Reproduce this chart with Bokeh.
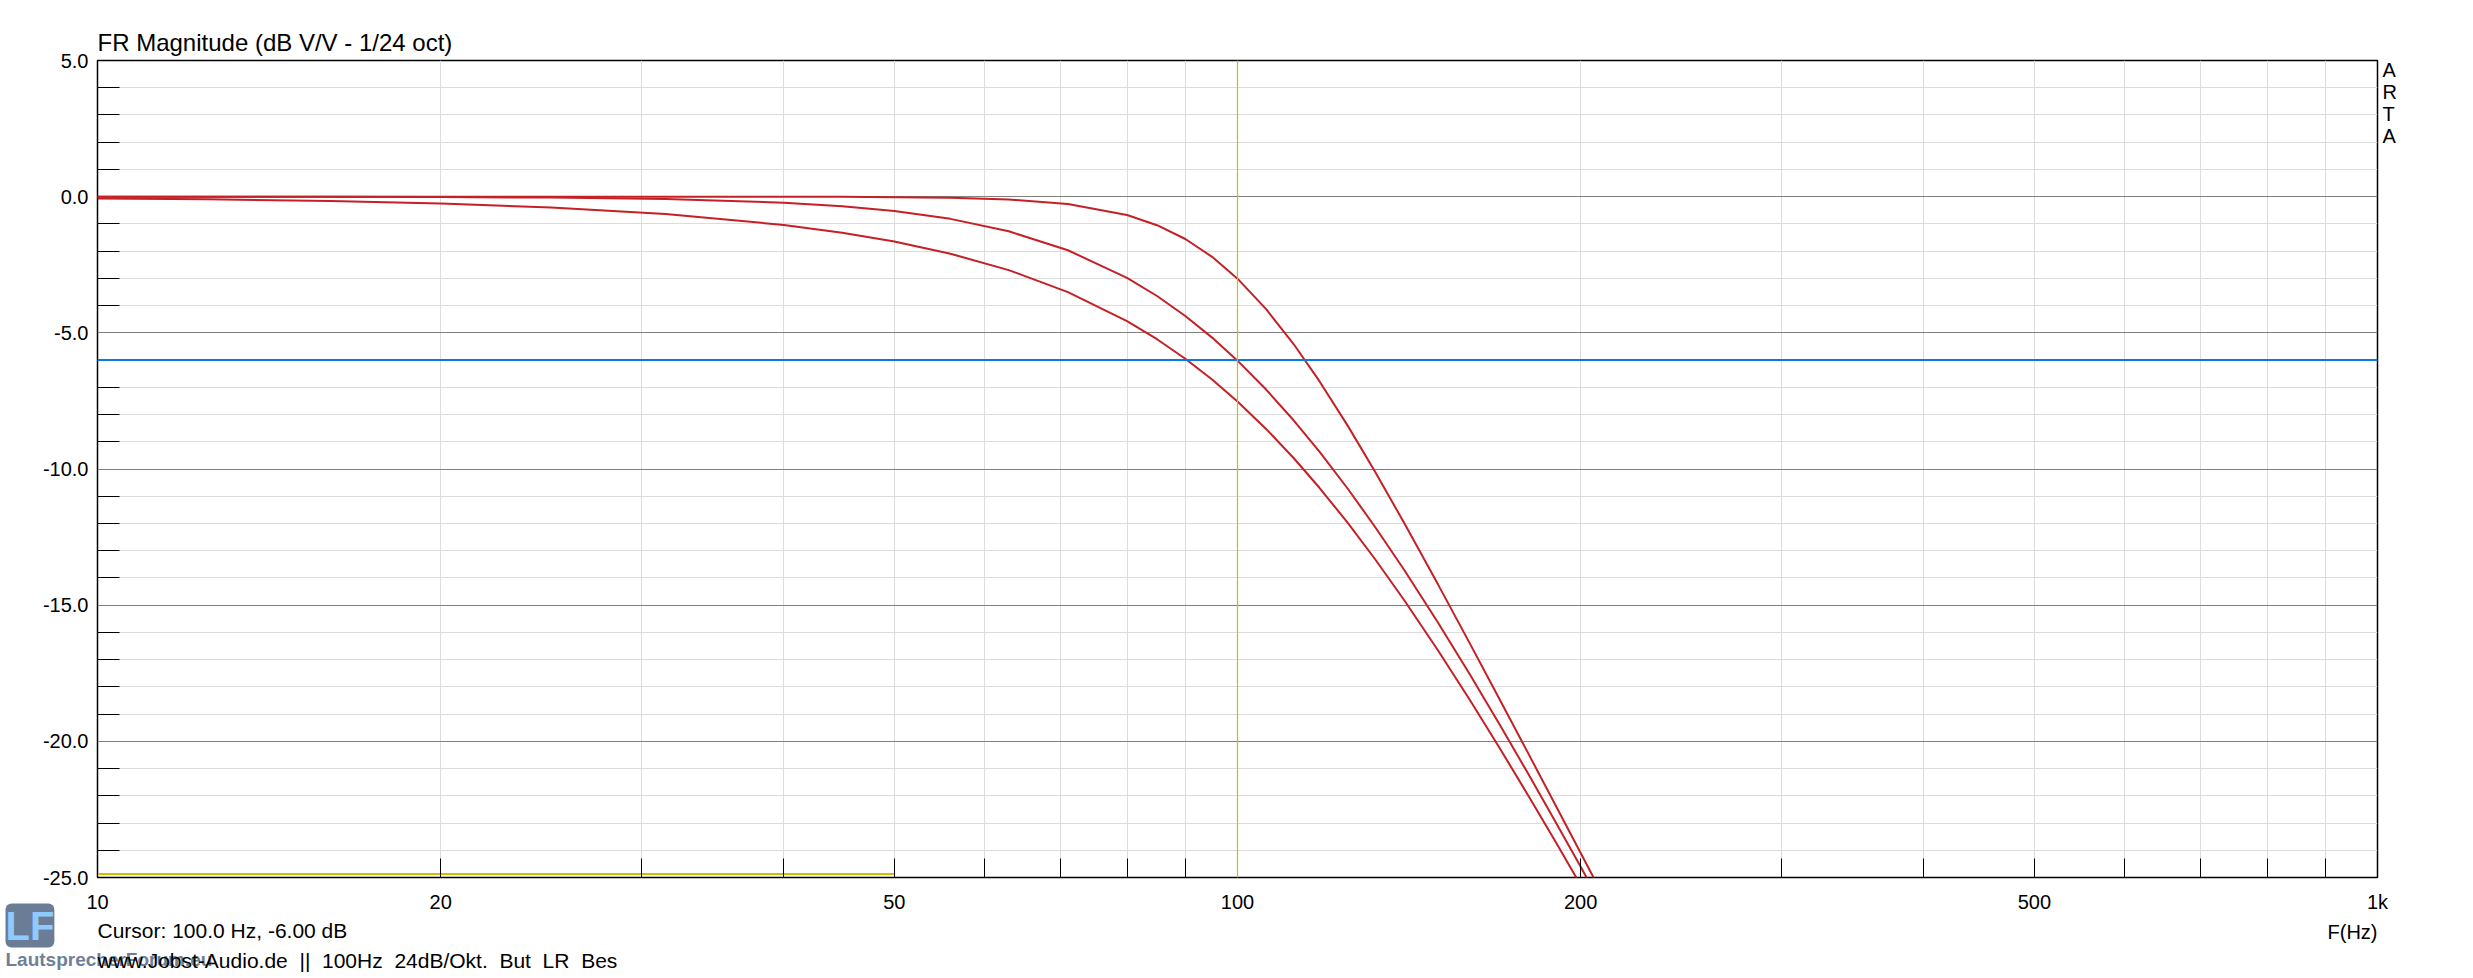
from bokeh.plotting import figure
from bokeh.models import FixedTicker, Span, Label, PrintfTickFormatter
from bokeh.embed import file_html
from bokeh.resources import INLINE

# ---------------- data ----------------
freq_hz = [10, 12.5, 16, 20, 25, 31.5, 40, 45, 50, 56, 63, 71, 80, 85, 90, 95,
           100, 106, 112, 118, 125, 132, 140, 150, 160, 170, 180, 190, 200, 212]

butterworth_db = [0.0, 0.0, 0.0, 0.0, 0.0, 0.0, -0.003, -0.007, -0.017, -0.042,
                  -0.106, -0.272, -0.673, -1.047, -1.555, -2.210, -3.010, -4.139,
                  -5.411, -6.775, -8.426, -10.093, -11.975, -14.254, -16.430,
                  -18.498, -20.461, -22.326, -24.099, -26.117]

linkwitz_riley_db = [-0.001, -0.002, -0.006, -0.014, -0.034, -0.085, -0.220, -0.349,
                     -0.527, -0.815, -1.271, -1.967, -2.982, -3.648, -4.382, -5.175,
                     -6.021, -7.092, -8.211, -9.363, -10.735, -12.119, -13.700,
                     -15.653, -17.563, -19.418, -21.212, -22.942, -24.609, -26.527]

bessel_db = [-0.063, -0.099, -0.162, -0.254, -0.398, -0.636, -1.037, -1.322, -1.648,
             -2.094, -2.697, -3.503, -4.569, -5.234, -5.951, -6.714, -7.521, -8.537,
             -9.597, -10.689, -11.989, -13.305, -14.810, -16.675, -18.503, -20.282,
             -22.006, -23.672, -25.280, -27.133]

# off-scale trace sitting on the bottom edge (yellow)
trace4_freq = [10, 50]
trace4_db = [-24.87, -24.87]

cursor_freq = 100.0
cursor_db = -6.0

x_major_ticks = [10, 20, 50, 100, 200, 500, 1000]
x_minor_ticks = [30, 40, 60, 70, 80, 90, 300, 400, 600, 700, 800, 900]
x_tick_labels = {10: "10", 20: "20", 50: "50", 100: "100", 200: "200", 500: "500", 1000: "1k"}
y_major_ticks = [-25, -20, -15, -10, -5, 0, 5]
y_minor_ticks = [v for v in range(-25, 6) if v % 5 != 0]

title_text = "FR Magnitude (dB V/V - 1/24 oct)"
footer_text = "www.Jobst-Audio.de \u00a0|| \u00a0100Hz \u00a024dB/Okt. \u00a0But \u00a0LR \u00a0Bes"

# ---------------- styling ----------------
FONT = "Liberation Sans"
RED = "#c42026"
YELLOW = "#c8c000"
BLUE = "#0a78e6"

FL, FT, FW, FH = 97, 60, 2280, 817  # frame left/top/width/height in page pixels


def fx(px):
    return 10 ** (1 + (px - FL) / (FW / 2.0))


def fy(py):
    return 5 - (py - FT) * 30.0 / FH


p = figure(x_axis_type="log", x_range=(10, 1000), y_range=(-25, 5),
           frame_width=FW, frame_height=FH,
           min_border_left=FL, min_border_top=FT,
           min_border_right=70, min_border_bottom=100,
           output_backend="svg", toolbar_location=None,
           background_fill_color="white", border_fill_color="white")
p.outline_line_color = "black"
p.outline_line_width = 1.5

xt = FixedTicker(ticks=x_major_ticks, minor_ticks=x_minor_ticks)
yt = FixedTicker(ticks=y_major_ticks, minor_ticks=y_minor_ticks)

p.xaxis.ticker = xt
p.xgrid.ticker = xt
p.xgrid.grid_line_color = "#dcdcdc"
p.xgrid.minor_grid_line_color = "#dcdcdc"

p.yaxis.ticker = yt
p.ygrid.ticker = yt
p.ygrid.grid_line_color = "#808080"
p.ygrid.minor_grid_line_color = "#dcdcdc"

for ax in (p.xaxis, p.yaxis):
    ax.axis_line_color = None
    ax.major_tick_out = 0
    ax.minor_tick_out = 0
    ax.major_tick_line_color = "black"
    ax.minor_tick_line_color = "black"
    ax.major_label_text_font = FONT
    ax.major_label_text_font_size = "20px"
    ax.major_label_text_color = "black"

p.xaxis.major_tick_in = 19
p.xaxis.minor_tick_in = 19
p.xaxis.major_label_overrides = x_tick_labels
p.xaxis.major_label_standoff = 13

p.yaxis.major_tick_in = 0
p.yaxis.minor_tick_in = 22
p.yaxis.formatter = PrintfTickFormatter(format="%.1f")
p.yaxis.major_label_standoff = 9

# ---------------- data marks ----------------
p.line(trace4_freq, trace4_db, line_color=YELLOW, line_width=2)
p.line(freq_hz, bessel_db, line_color=RED, line_width=2)
p.line(freq_hz, linkwitz_riley_db, line_color=RED, line_width=2)
p.line(freq_hz, butterworth_db, line_color=RED, line_width=2)

p.add_layout(Span(location=cursor_db, dimension="width", line_color=BLUE, line_width=2))
p.add_layout(Span(location=cursor_freq, dimension="height", line_color=YELLOW, line_width=1.2))

# ---------------- texts (in side panels so they are not clipped to the frame) ----------------
p.add_layout(Label(x=fx(97), y=fy(28), text=title_text, text_font=FONT,
                   text_font_size="24px", text_color="black", text_baseline="top"),
             "above")
p.add_layout(Label(x=fx(2382), y=fy(58), text="A\nR\nT\nA", text_font=FONT,
                   text_font_size="20px", text_color="black", text_baseline="top",
                   text_line_height=1.0), "right")
p.add_layout(Label(x=fx(2377), y=fy(920), text="F(Hz)", text_font=FONT,
                   text_font_size="20px", text_color="black", text_align="right",
                   text_baseline="top"), "below")
p.add_layout(Label(x=fx(5), y=fy(903), text="LF", text_font=FONT, text_font_style="bold",
                   text_font_size="40px", text_color="#8fcaff", text_baseline="top",
                   background_fill_color="#6a7c96", border_radius=6), "below")
p.add_layout(Label(x=fx(5), y=fy(948), text="LautsprecherForum.eu", text_font=FONT,
                   text_font_style="bold", text_font_size="19px", text_color="#6e7f97",
                   text_baseline="top"), "below")
p.add_layout(Label(x=fx(97), y=fy(918),
                   text=f"Cursor: {cursor_freq:.1f} Hz, {cursor_db:.2f} dB",
                   text_font=FONT, text_font_size="21px", text_color="black",
                   text_baseline="top"), "below")
p.add_layout(Label(x=fx(97), y=fy(948), text=footer_text, text_font=FONT,
                   text_font_size="21px", text_color="black", text_baseline="top"),
             "below")

open("out.html", "w").write(file_html(p, INLINE))
